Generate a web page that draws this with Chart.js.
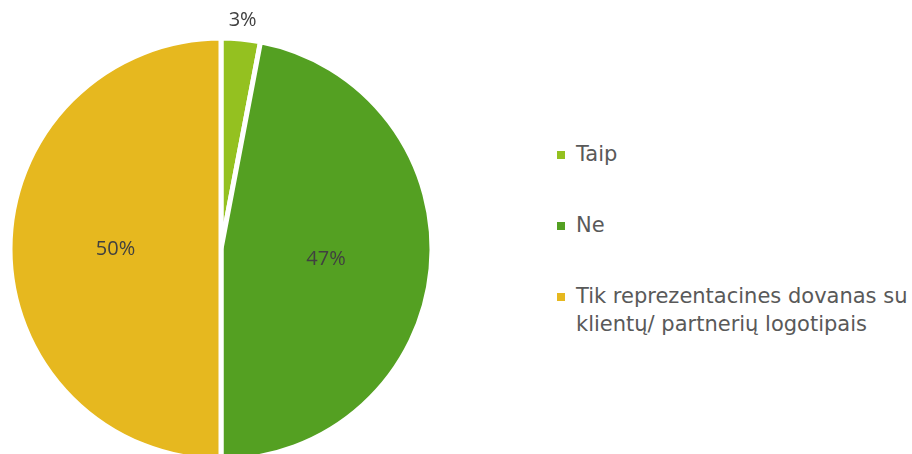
<!DOCTYPE html>
<html>
<head>
<meta charset="utf-8">
<script src="https://cdn.jsdelivr.net/npm/chart.js@4"></script>
<style>
  html, body { margin: 0; padding: 0; background: #fff; }
  #wrap { position: relative; width: 912px; height: 454px; overflow: hidden; }
  #pie { position: absolute; left: 0; top: 0; }
  #legend { position: absolute; left: 557px; top: 0; font-family: "DejaVu Sans", sans-serif; font-size: 21px; color: #595959; }
  #legend .item { position: absolute; left: 0; white-space: nowrap; line-height: 28px; }
  #legend .box { position: absolute; left: 0; width: 8px; height: 8px; }
  #legend .txt { position: absolute; left: 19px; }
</style>
</head>
<body>
<div id="wrap">
  <canvas id="pie" width="442" height="498"></canvas>
  <div id="legend"></div>
</div>
<script>
const categories = ['Taip', 'Ne', 'Tik reprezentacines dovanas su\nklientų/ partnerių logotipais'];
const values = [3, 47, 50];
const colors = ['#94C120', '#54A022', '#E6B81F'];

// legend on the right, built from the same arrays
const legendTops = [140, 211, 282];
const legend = document.getElementById('legend');
categories.forEach((c, i) => {
  const item = document.createElement('div');
  item.className = 'item';
  item.style.top = legendTops[i] + 'px';
  const box = document.createElement('div');
  box.className = 'box';
  box.style.background = colors[i];
  box.style.top = '11px';
  const txt = document.createElement('div');
  txt.className = 'txt';
  txt.innerHTML = c.split('\n').join('<br>');
  item.appendChild(box);
  item.appendChild(txt);
  legend.appendChild(item);
});

const pctLabels = {
  id: 'pctLabels',
  afterDatasetsDraw(chart) {
    const ctx = chart.ctx;
    const meta = chart.getDatasetMeta(0);
    ctx.save();
    ctx.font = '20px "Open Sans"';
    ctx.fillStyle = '#404040';
    ctx.textAlign = 'center';
    ctx.textBaseline = 'middle';
    meta.data.forEach((arc, i) => {
      const v = chart.data.datasets[0].data[i];
      let x, y;
      if (v < 10) {
        // small slice: label outside
        const mid = (arc.startAngle + arc.endAngle) / 2;
        const r = arc.outerRadius + 19;
        x = arc.x + Math.cos(mid) * r;
        y = arc.y + Math.sin(mid) * r;
      } else {
        const p = arc.tooltipPosition();
        x = p.x; y = p.y;
      }
      ctx.fillText(v + '%', x, y);
    });
    ctx.restore();
  }
};

new Chart(document.getElementById('pie'), {
  type: 'pie',
  data: {
    labels: categories,
    datasets: [{
      data: values,
      backgroundColor: colors,
      borderColor: '#ffffff',
      borderWidth: 5
    }]
  },
  options: {
    responsive: false,
    animation: false,
    events: [],
    radius: 211,
    layout: { padding: 0 },
    plugins: {
      legend: { display: false },
      tooltip: { enabled: false }
    }
  },
  plugins: [pctLabels]
});
</script>
</body>
</html>
